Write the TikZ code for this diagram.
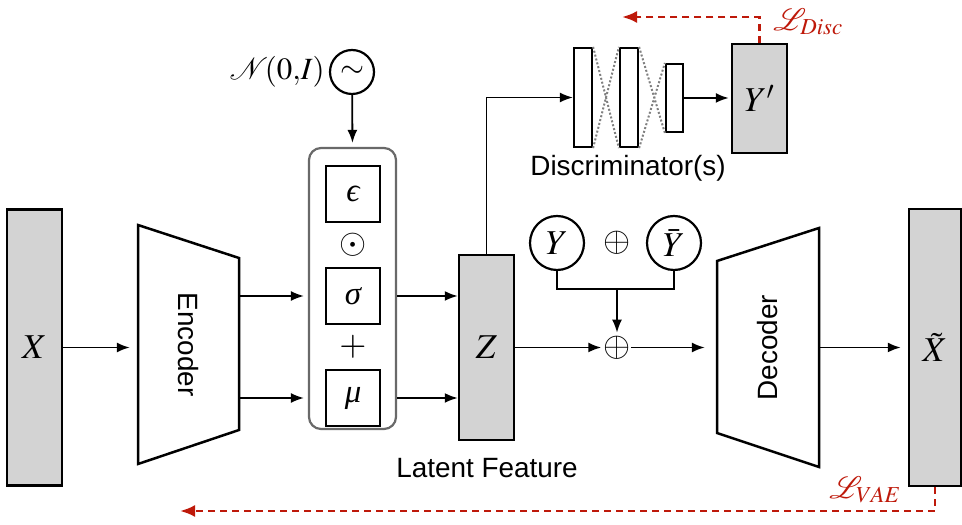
\documentclass[tikz,border=0pt]{standalone}
\usepackage{amsmath}
\usepackage{mathptmx}
\usepackage[no-math]{fontspec}
\setsansfont{Liberation Sans}
\newfontfamily\grkfont{Liberation Serif}
\usepackage{tikz}
\usetikzlibrary{arrows,arrows.meta,shapes,calc}
\definecolor{boxgray}{RGB}{211,211,211}
\definecolor{rimgray}{RGB}{105,105,105}
\definecolor{lossred}{RGB}{190,25,10}
\newcommand{\lbl}[1]{{\fontsize{28}{32}\selectfont\sffamily #1}}
\newcommand{\mth}[1]{{\fontsize{35}{40}\selectfont $#1$}}
\newcommand{\grk}[1]{{\fontsize{33}{38}\selectfont\grkfont\itshape #1}}
\newcommand{\lossmth}[1]{{\fontsize{31}{36}\selectfont $#1$}}

\begin{document}
\begin{tikzpicture}[>={Latex[length=13bp,width=10bp]}]
      \tikzstyle{every node}=[inner sep=0pt]
      \tikzstyle{data}=[draw,line width=2.5bp,fill=boxgray]
      \tikzstyle{op}=[draw,line width=2.2bp,fill=white,minimum width=54bp,minimum height=56bp]
      \tikzstyle{bar}=[draw,line width=2.2bp,fill=white]
      \tikzstyle{link}=[line width=1.8bp]
      \tikzstyle{loss}=[draw=lossred,line width=2.6bp,dash pattern=on 7bp off 5bp]
      \useasboundingbox (0bp,0bp) rectangle (962bp,525bp);
      %% input, encoder, reparametrisation
  \node (x_in) at (34.5bp,177.5bp) [data,minimum width=55bp,minimum height=276bp] {\mth{X}};
  \draw [line width=2.5bp] (138bp,300bp) -- (239bp,267bp) -- (239bp,95bp) -- (138bp,61bp) -- cycle;
  \node (enc) at (188.5bp,180.5bp) [minimum width=101bp,minimum height=239bp] {\rotatebox{-90}{\lbl{Encoder}}};
  \node (rep) at (352.5bp,236.5bp) [draw=rimgray,line width=2.2bp,rounded corners=12bp,minimum width=87bp,minimum height=281bp] {};
  \node (eps) at (353bp,331bp) [op] {\grk{ϵ}};
  \node (sig) at (353bp,229bp) [op] {\grk{σ}};
  \node (mu) at (353bp,127bp) [op] {\grk{μ}};
  \node (odt) at (353bp,280bp) {\mth{\odot}};
  \node (pls) at (353bp,178bp) {\mth{+}};
  \node (noise) at (352bp,453bp) [draw,circle,line width=2.2bp,minimum size=44bp] {\lossmth{\sim}};
  \node (nlab) at ([xshift=-4bp]noise.west) [anchor=east] {\lossmth{\mathcal{N}\!(0{,}I)}};
      %% latent code
  \node (z_lat) at (486.5bp,177.5bp) [data,minimum width=55bp,minimum height=185bp] {\mth{Z}};
  \node (zlab) at (487bp,57bp) {\lbl{Latent Feature}};
      %% discriminator branch
  \node (d_1) at (583bp,427.5bp) [bar,minimum width=18bp,minimum height=99bp] {};
  \node (d_2) at (629bp,427.5bp) [bar,minimum width=18bp,minimum height=99bp] {};
  \node (d_3) at (674.5bp,427bp) [bar,minimum width=17bp,minimum height=68bp] {};
  \node (y_p) at (759.5bp,426.5bp) [data,minimum width=55bp,minimum height=109bp] {\mth{Y'}};
  \node (dlab) at (628bp,357bp) {\lbl{Discriminator(s)}};
      %% conditioning
  \node (y_c) at (557bp,282bp) [draw,circle,line width=2.2bp,minimum size=54bp] {\mth{Y}};
  \node (y_b) at (674bp,282bp) [draw,circle,line width=2.2bp,minimum size=54bp] {\mth{\bar{Y}}};
  \node (ycat) at (617bp,282bp) {\mth{\oplus}};
  \coordinate (mrg) at (617bp,236bp);
  \node (cat) at (617bp,177.5bp) {\mth{\oplus}};
      %% decoder, output
  \draw [line width=2.5bp] (717bp,264bp) -- (819bp,297bp) -- (819bp,58bp) -- (717bp,92bp) -- cycle;
  \node (dec) at (768bp,177.5bp) [minimum width=102bp,minimum height=239bp] {\rotatebox{90}{\lbl{Decoder}}};
  \node (x_out) at (935bp,177.5bp) [data,minimum width=52bp,minimum height=277bp] {\mth{\tilde{X}}};
  \coordinate (vae_end) at (180bp,14bp);
  \coordinate (disc_end) at (622bp,508bp);
  \node (lvae) at (865bp,35bp) {\textcolor{lossred}{\lossmth{\mathcal{L}_{VAE}}}};
  \node (ldisc) at (808bp,503bp) {\textcolor{lossred}{\lossmth{\mathcal{L}_{Disc}}}};
      %% connectors
  \draw [link,->,shorten >=8bp] (x_in) -- (x_in -| enc.west);
  \draw [link,->,shorten >=4bp] (enc.east |- sig) -- (rep.west |- sig);
  \draw [link,->,shorten >=4bp] (enc.east |- mu) -- (rep.west |- mu);
  \draw [link,->,shorten >=4bp] (noise) -- (rep.north);
  \draw [link,->] (rep.east |- sig) -- (z_lat.west |- sig);
  \draw [link,->] (rep.east |- mu) -- (z_lat.west |- mu);
  \draw [link,->] (z_lat.north) |- (d_1.west);
  \draw [dotted,line width=2bp,gray] (d_1.north east) -- (d_2.south west) (d_1.south east) -- (d_2.north west);
  \draw [dotted,line width=2bp,gray] (d_2.north east) -- (d_3.south west) (d_2.south east) -- (d_3.north west);
  \draw [link,->,shorten >=2bp] (d_3) -- (d_3 -| y_p.west);
  \draw [link] (y_c.south) |- (mrg) -| (y_b.south);
  \draw [link,->,shorten >=3bp] (mrg) -- (cat.north);
  \draw [link,->,shorten >=2bp] (z_lat) -- (cat);
  \draw [link,->,shorten >=12bp] (cat) -- (dec.west);
  \draw [link,->,shorten >=7bp] (dec.east) -- (x_out);
  \draw [loss,-{Latex[length=15bp,width=12bp]},lossred] (x_out.south) |- (vae_end);
  \draw [loss,-{Latex[length=15bp,width=12bp]},lossred] (y_p.north) |- (disc_end);
%
\end{tikzpicture}
\end{document}
